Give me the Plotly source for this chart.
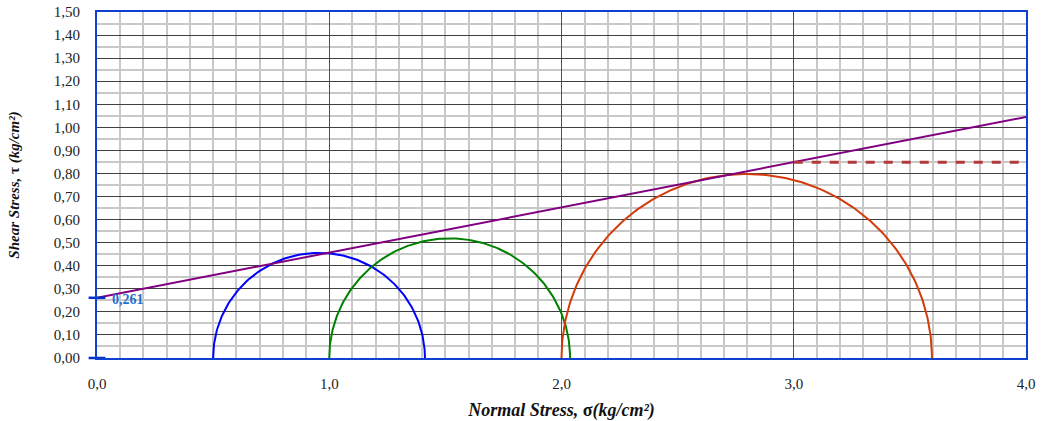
import numpy as np
import plotly.graph_objects as go

# Mohr circles: minor / major principal stresses (kg/cm2)
sigma3 = [0.50, 1.00, 2.00]
sigma1 = [1.412, 2.037, 3.595]
circle_colors = ["#0000ff", "#008000", "#d23c0a"]

# Failure envelope: tau = c + sigma * tan(phi)
cohesion = 0.261
tan_phi = 0.196
envelope_x = [0.0, 4.0]

# Horizontal reference at the envelope value for sigma = 3.0
ref_x = [3.0, 4.0]

SERIF = "Liberation Serif, Times New Roman, serif"

fig = go.Figure()

for s3, s1, col in zip(sigma3, sigma1, circle_colors):
    c = (s1 + s3) / 2
    r = (s1 - s3) / 2
    t = np.linspace(np.pi, 0, 181)
    fig.add_trace(go.Scatter(x=c + r * np.cos(t), y=r * np.sin(t), mode="lines",
                             line=dict(color=col, width=2), hoverinfo="skip"))

env_y = [cohesion + tan_phi * v for v in envelope_x]
fig.add_trace(go.Scatter(x=envelope_x, y=env_y, mode="lines",
                         line=dict(color="#800080", width=2)))

ref_level = cohesion + tan_phi * ref_x[0]
fig.add_trace(go.Scatter(x=ref_x, y=[ref_level, ref_level], mode="lines",
                         line=dict(color="#b03a3a", width=3, dash="dash")))

fig.add_trace(go.Scatter(x=[0, 0], y=[0, cohesion], mode="markers",
                         marker=dict(symbol="line-ew", size=12,
                                     line=dict(color="#0033cc", width=2.5)),
                         cliponaxis=False))

fig.add_annotation(x=0, y=cohesion, text="<b>0,261</b>", showarrow=False,
                   xanchor="left", yanchor="middle", xshift=13, yshift=-2,
                   font=dict(family=SERIF, size=14, color="#1f6fd0"))

fig.update_layout(
    width=1041, height=421,
    margin=dict(l=97, r=15, t=12, b=63, autoexpand=False),
    paper_bgcolor="white", plot_bgcolor="white",
    separators=", ",
    showlegend=False,
    font=dict(family=SERIF, size=15, color="#222222"),
    xaxis=dict(
        range=[0, 4], dtick=1, tick0=0, tickformat=".1f",
        showgrid=True, gridcolor="#505050", gridwidth=1,
        minor=dict(dtick=0.1, showgrid=True, gridcolor="#c8c8c8", gridwidth=2),
        showline=True, linecolor="#1040d0", linewidth=2, mirror=True,
        zeroline=False, ticks="", ticklabelstandoff=11, automargin=False,
        title=dict(text="<b><i>Normal Stress, </i>σ<i>(kg/cm²)</i></b>",
                   font=dict(family=SERIF, size=18, color="#111111"),
                   standoff=15),
    ),
    yaxis=dict(
        range=[0, 1.5], dtick=0.1, tick0=0, tickformat=".2f",
        showgrid=True, gridcolor="#404040", gridwidth=1,
        minor=dict(dtick=0.05, showgrid=True, gridcolor="#c8c8c8", gridwidth=2),
        showline=True, linecolor="#1040d0", linewidth=2, mirror=True,
        zeroline=False, ticks="", ticklabelstandoff=12, automargin=False,
        title=dict(text="<b><i>Shear Stress, </i>τ<i> (kg/cm²)</i></b>",
                   font=dict(family=SERIF, size=15, color="#111111"),
                   standoff=31),
    ),
)

fig.write_html("out.html")
